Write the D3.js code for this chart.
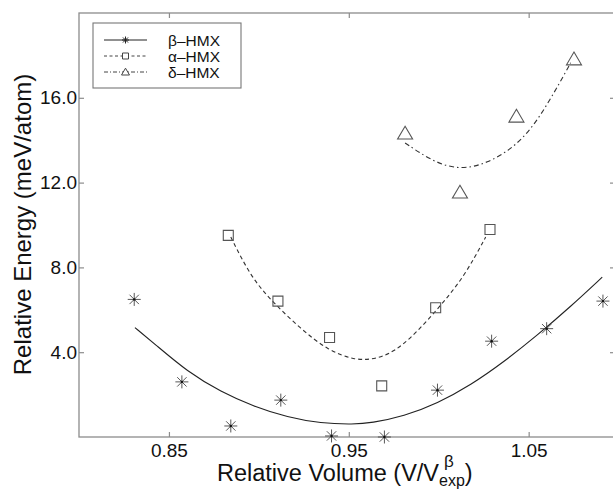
<!DOCTYPE html>
<html>
<head>
<meta charset="utf-8">
<script src="https://cdn.jsdelivr.net/npm/d3@7"></script>
<style>
  body { margin: 0; background: #fff; }
  svg { display: block; font-family: "Liberation Sans", Arial, Helvetica, sans-serif; }
</style>
</head>
<body>
<div id="chart"></div>
<script>
// Data
const betaPoints = [
    [0.8307, 6.49], [0.8572, 2.60], [0.8844, 0.52], [0.9122, 1.74], [0.9404, 0.05],
    [0.9698, 0.00], [0.9993, 2.21], [1.0294, 4.52], [1.0600, 5.11], [1.0913, 6.41]
];
const alphaPoints = [
    [0.8830, 9.51], [0.9106, 6.41], [0.9393, 4.69], [0.9683, 2.41], [0.9983, 6.10], [1.0285, 9.79]
];
const deltaPoints = [
    [0.9813, 14.32], [1.0118, 11.54], [1.0432, 15.12], [1.0752, 17.82]
];

// fitted curves
const betaFit = [
    [0.8311, 5.16], [0.8418, 4.41], [0.8604, 3.07], [0.8789, 2.13], [0.8974, 1.43],
    [0.9159, 0.93], [0.9344, 0.64], [0.9529, 0.60], [0.9622, 0.66], [0.9807, 0.98],
    [0.9993, 1.59], [1.0178, 2.45], [1.0363, 3.55], [1.0548, 4.80], [1.0733, 6.15], [1.0909, 7.54]
];
const alphaFit = [
    [0.8844, 9.43], [0.8956, 7.54], [0.9076, 6.37], [0.9233, 5.10], [0.9382, 4.10],
    [0.9530, 3.62], [0.9650, 3.66], [0.9789, 4.15], [0.9982, 5.90], [1.0141, 7.54], [1.0261, 9.43]
];
const deltaFit = [
    [0.9813, 13.87], [0.9974, 12.95], [1.0122, 12.60], [1.0270, 12.91], [1.0419, 13.66],
    [1.0530, 14.70], [1.0622, 15.95], [1.0715, 17.35], [1.0733, 17.65]
];

const xTicks = [0.85, 0.95, 1.05];
const yTicks = [4, 8, 12, 16];
const legendLabels = ["\u03b2\u2013HMX", "\u03b1\u2013HMX", "\u03b4\u2013HMX"];

const width = 613, height = 490;
const plot = { left: 79, right: 615, top: 13, bottom: 437 };

const svg = d3.select("#chart").append("svg")
    .attr("width", width)
    .attr("height", height);

const x = d3.scaleLinear().domain([0.80, 1.098]).range([plot.left, plot.right]);
const y = d3.scaleLinear().domain([0, 20]).range([plot.bottom, plot.top]);

const axisColor = "#8c8c8c";

// frame
svg.append("rect")
    .attr("x", plot.left).attr("y", plot.top)
    .attr("width", plot.right - plot.left).attr("height", plot.bottom - plot.top)
    .attr("fill", "none").attr("stroke", axisColor).attr("stroke-width", 1.3);

// axes with inward ticks
function styleAxis(g) {
    g.select(".domain").remove();
    g.selectAll(".tick line").attr("stroke", axisColor).attr("stroke-width", 1.2);
    g.selectAll(".tick text").attr("fill", "#111").attr("font-size", 19)
        .attr("font-family", "Liberation Sans, Arial, sans-serif");
}

svg.append("g").attr("transform", `translate(0,${plot.bottom})`)
    .call(d3.axisBottom(x).tickValues(xTicks).tickSize(-5).tickPadding(7).tickFormat(d3.format(".2f")))
    .call(styleAxis);
svg.append("g").attr("transform", `translate(0,${plot.top})`)
    .call(d3.axisTop(x).tickValues(xTicks).tickSize(-5).tickFormat(""))
    .call(styleAxis);
svg.append("g").attr("transform", `translate(${plot.left},0)`)
    .call(d3.axisLeft(y).tickValues(yTicks).tickSize(-5).tickPadding(2).tickFormat(d3.format(".1f")))
    .call(styleAxis);
svg.append("g").attr("transform", `translate(${plot.right},0)`)
    .call(d3.axisRight(y).tickValues(yTicks).tickSize(-5).tickFormat(""))
    .call(styleAxis);

// curves
const line = d3.line().x(d => x(d[0])).y(d => y(d[1])).curve(d3.curveBasis);

svg.append("path").datum(betaFit).attr("d", line)
    .attr("fill", "none").attr("stroke", "#222").attr("stroke-width", 1.1);
svg.append("path").datum(alphaFit).attr("d", line)
    .attr("fill", "none").attr("stroke", "#333").attr("stroke-width", 1.1)
    .attr("stroke-dasharray", "4,3");
svg.append("path").datum(deltaFit).attr("d", line)
    .attr("fill", "none").attr("stroke", "#333").attr("stroke-width", 1.1)
    .attr("stroke-dasharray", "5,3,1.5,3");

// marker shapes
function starPath(r) {
    const k = r * 0.72;
    return `M${-r},0H${r}M0,${-r}V${r}M${-k},${-k}L${k},${k}M${-k},${k}L${k},${-k}`;
}
function squarePath(r) {
    return `M${-r},${-r}H${r}V${r}H${-r}Z`;
}
function trianglePath(r) {
    return `M0,${-r * 0.95}L${r},${r * 0.75}L${-r},${r * 0.75}Z`;
}

svg.append("g").selectAll("path").data(betaPoints).join("path")
    .attr("transform", d => `translate(${x(d[0])},${y(d[1])})`)
    .attr("d", starPath(6.5))
    .attr("fill", "none").attr("stroke", "#444").attr("stroke-width", 0.9);
svg.append("g").selectAll("circle").data(betaPoints).join("circle")
    .attr("cx", d => x(d[0])).attr("cy", d => y(d[1])).attr("r", 1.2).attr("fill", "#111");

svg.append("g").selectAll("path").data(alphaPoints).join("path")
    .attr("transform", d => `translate(${x(d[0])},${y(d[1])})`)
    .attr("d", squarePath(5))
    .attr("fill", "none").attr("stroke", "#555").attr("stroke-width", 1.1);

svg.append("g").selectAll("path").data(deltaPoints).join("path")
    .attr("transform", d => `translate(${x(d[0])},${y(d[1])})`)
    .attr("d", trianglePath(7.5))
    .attr("fill", "none").attr("stroke", "#555").attr("stroke-width", 1.1);

// legend
const legend = svg.append("g");
legend.append("rect")
    .attr("x", 93).attr("y", 23).attr("width", 148).attr("height", 65)
    .attr("fill", "#fff").attr("stroke", "#777").attr("stroke-width", 1.1);

const legendStyles = [
    { dash: null, marker: starPath(3.5), color: "#222" },
    { dash: "3,2.5", marker: squarePath(3), color: "#444" },
    { dash: "4,2,1,2", marker: trianglePath(4), color: "#444" }
];
legendLabels.forEach((label, i) => {
    const ly = 40 + i * 16;
    const st = legendStyles[i];
    legend.append("line")
        .attr("x1", 104).attr("x2", 147).attr("y1", ly).attr("y2", ly)
        .attr("stroke", st.color).attr("stroke-width", 1)
        .attr("stroke-dasharray", st.dash);
    legend.append("path")
        .attr("transform", `translate(125.5,${ly})`)
        .attr("d", st.marker)
        .attr("fill", "#fff").attr("stroke", st.color).attr("stroke-width", 1);
    legend.append("text")
        .attr("x", 168).attr("y", ly + 5.5)
        .attr("font-size", 15.5).attr("fill", "#111")
        .text(label);
});

// axis titles
svg.append("text")
    .attr("transform", "translate(31,224.5) rotate(-90)")
    .attr("text-anchor", "middle")
    .attr("font-size", 24).attr("fill", "#111")
    .text("Relative Energy (meV/atom)");

const titleX = 217;
const xTitle = svg.append("text")
    .attr("x", titleX).attr("y", 481)
    .attr("font-size", 23.5).attr("fill", "#111")
    .text("Relative Volume (V/V");
const mainLen = xTitle.node().getComputedTextLength();
const sub = svg.append("text")
    .attr("x", titleX + mainLen).attr("y", 486)
    .attr("font-size", 16).attr("fill", "#111")
    .text("exp");
const subLen = sub.node().getComputedTextLength();
svg.append("text")
    .attr("x", titleX + mainLen + 5).attr("y", 467)
    .attr("font-size", 17).attr("fill", "#111")
    .text("\u03b2");
svg.append("text")
    .attr("x", titleX + mainLen + subLen).attr("y", 481)
    .attr("font-size", 23.5).attr("fill", "#111")
    .text(")");
</script>
</body>
</html>
